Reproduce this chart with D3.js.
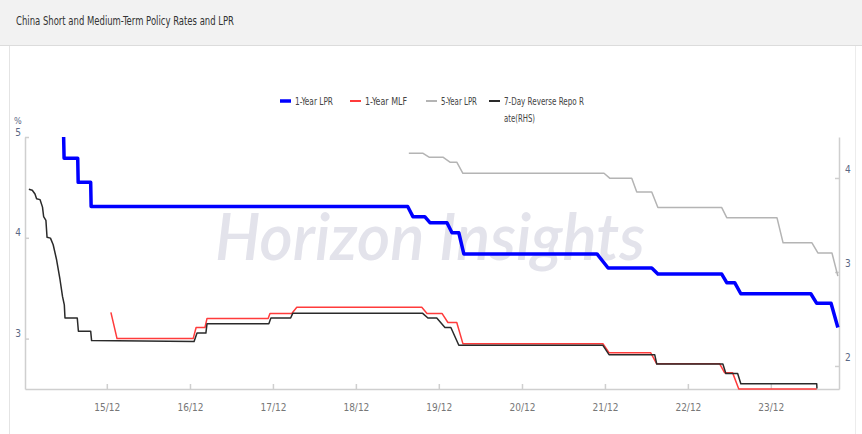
<!DOCTYPE html>
<html>
<head>
<meta charset="utf-8">
<script src="https://cdn.jsdelivr.net/npm/d3@7"></script>
<style>
	body { margin: 0; background: #fff; }
	svg text { font-family: "Liberation Sans Narrow", "DejaVu Sans Condensed", "DejaVu Sans", sans-serif; font-stretch: condensed; }
	.axis path, .axis line { stroke: #cfcfcf; stroke-width: 1.5px; }
	.axis text { fill: #5a6785; font-size: 10px; }
	.xaxis text { fill: #777; font-size: 10px; }
</style>
</head>
<body>
<div id="content"></div>
<script>

	// 1-Year LPR (left axis, %)
	var lpr1y = [
		["2015-06-24", 5.0], ["2015-06-26", 4.79], ["2015-08-25", 4.79], ["2015-08-27", 4.55],
		["2015-10-21", 4.55], ["2015-10-23", 4.31], ["2019-08-16", 4.31], ["2019-09-08", 4.21],
		["2019-10-30", 4.21], ["2019-11-22", 4.15], ["2020-02-05", 4.15], ["2020-02-27", 4.05],
		["2020-03-28", 4.05], ["2020-04-19", 3.84], ["2021-11-26", 3.84], ["2022-01-14", 3.70],
		["2022-07-25", 3.70], ["2022-08-21", 3.64], ["2023-05-29", 3.64], ["2023-06-20", 3.555],
		["2023-07-25", 3.555], ["2023-08-21", 3.445], ["2024-06-24", 3.445], ["2024-07-20", 3.35],
		["2024-09-21", 3.35], ["2024-10-21", 3.11]
	];

	// 1-Year MLF (left axis, %)
	var mlf1y = [
		["2016-01-18", 3.26], ["2016-02-14", 3.0], ["2017-01-14", 3.0], ["2017-01-27", 3.11],
		["2017-03-07", 3.11], ["2017-03-16", 3.20], ["2017-12-10", 3.20], ["2017-12-18", 3.25],
		["2018-03-24", 3.25], ["2018-04-15", 3.31], ["2019-10-17", 3.31], ["2019-11-09", 3.25],
		["2020-01-14", 3.25], ["2020-02-09", 3.16], ["2020-03-19", 3.16], ["2020-04-15", 2.95],
		["2021-12-22", 2.95], ["2022-01-18", 2.86], ["2022-07-20", 2.86], ["2022-08-16", 2.75],
		["2023-05-20", 2.75], ["2023-06-11", 2.66], ["2023-07-16", 2.66], ["2023-08-12", 2.50],
		["2024-07-20", 2.50]
	];

	// 5-Year LPR (left axis, %)
	var lpr5y = [
		["2019-08-21", 4.84], ["2019-10-21", 4.84], ["2019-11-18", 4.80], ["2020-01-18", 4.80],
		["2020-02-18", 4.75], ["2020-03-19", 4.75], ["2020-04-15", 4.64], ["2021-12-27", 4.64],
		["2022-01-22", 4.59], ["2022-04-28", 4.59], ["2022-05-20", 4.455], ["2022-07-25", 4.455],
		["2022-08-21", 4.30], ["2023-05-29", 4.30], ["2023-06-20", 4.20], ["2024-01-27", 4.20],
		["2024-02-23", 3.95], ["2024-06-29", 3.95], ["2024-07-25", 3.85], ["2024-09-25", 3.85],
		["2024-10-21", 3.62]
	];

	// 7-Day Reverse Repo Rate (right axis, %)
	var repo7d = [
		["2015-01-22", 3.88], ["2015-02-06", 3.87], ["2015-02-18", 3.83], ["2015-02-25", 3.78],
		["2015-03-12", 3.77], ["2015-03-23", 3.69], ["2015-03-28", 3.59], ["2015-04-07", 3.55],
		["2015-04-12", 3.37], ["2015-04-27", 3.36], ["2015-05-09", 3.29], ["2015-05-24", 3.13],
		["2015-06-08", 2.92], ["2015-06-19", 2.74], ["2015-06-27", 2.65], ["2015-06-30", 2.51],
		["2015-08-23", 2.51], ["2015-08-28", 2.37], ["2015-10-21", 2.37], ["2015-10-25", 2.27],
		["2017-01-18", 2.26], ["2017-01-31", 2.35], ["2017-03-11", 2.35], ["2017-03-16", 2.45],
		["2017-12-13", 2.45], ["2017-12-22", 2.51], ["2018-03-19", 2.51], ["2018-03-28", 2.56],
		["2019-10-21", 2.56], ["2019-11-13", 2.51], ["2019-12-22", 2.51], ["2020-01-27", 2.41],
		["2020-02-22", 2.41], ["2020-03-28", 2.22], ["2021-12-22", 2.22], ["2022-01-18", 2.12],
		["2022-08-07", 2.12], ["2022-08-16", 2.02], ["2023-06-03", 2.02], ["2023-06-16", 1.92],
		["2023-08-07", 1.92], ["2023-08-21", 1.81], ["2024-07-20", 1.81], ["2024-07-21", 1.76]
	];

	var xTicks = ["2015-12-31", "2016-12-31", "2017-12-31", "2018-12-31", "2019-12-31",
		"2020-12-31", "2021-12-31", "2022-12-31", "2023-12-31"];
	var leftTicks = [3, 4, 5];
	var rightTicks = [2, 3, 4];

	var series = [
		{ name: ["1-Year LPR"], data: lpr1y, axis: "left", color: "#0000ff", width: 3.5, tw: [38] },
		{ name: ["1-Year MLF"], data: mlf1y, axis: "left", color: "#ff3b3b", width: 1.5, tw: [42] },
		{ name: ["5-Year LPR"], data: lpr5y, axis: "left", color: "#b4b4b4", width: 1.5, tw: [36] },
		{ name: ["7-Day Reverse Repo R", "ate(RHS)"], data: repo7d, axis: "right", color: "#2a2a2a", width: 1.5, tw: [80, 31] }
	];

	var width = 862, height = 434;
	var parse = d3.timeParse("%Y-%m-%d");

	var svg = d3.select("#content").append("svg")
		.attr("width", width).attr("height", height);

	// header bar and panel frame
	svg.append("rect").attr("x", 0).attr("y", 0).attr("width", width).attr("height", 45).attr("fill", "#f2f2f2");
	svg.append("line").attr("x1", 0).attr("x2", width).attr("y1", 45.5).attr("y2", 45.5).attr("stroke", "#dcdcdc");
	svg.append("line").attr("x1", 9.5).attr("x2", 9.5).attr("y1", 46).attr("y2", height).attr("stroke", "#e4e4e4");
	svg.append("line").attr("x1", 855.5).attr("x2", 855.5).attr("y1", 46).attr("y2", height).attr("stroke", "#ececec");

	svg.append("text")
		.attr("x", 16).attr("y", 25)
		.attr("font-size", 13)
		.attr("fill", "#333")
		.attr("textLength", 218).attr("lengthAdjust", "spacingAndGlyphs")
		.text("China Short and Medium-Term Policy Rates and LPR");

	var plot = { left: 25, right: 839, top: 137, bottom: 389 };

	var x = d3.scaleTime()
		.domain([parse("2015-01-05"), parse("2024-10-26")])
		.range([plot.left, plot.right]);
	var yLeft = d3.scaleLinear().domain([2.5, 5]).range([plot.bottom, plot.top]);
	var yRight = d3.scaleLinear().domain([1.755, 4.436]).range([plot.bottom, plot.top]);

	// watermark
	svg.append("text")
		.attr("x", 215).attr("y", 260)
		.attr("font-size", 66).attr("font-style", "italic").attr("font-weight", 600)
		.style("font-family", "Lato, 'DejaVu Sans', sans-serif")
		.attr("fill", "#e3e3eb")
		.attr("textLength", 430).attr("lengthAdjust", "spacingAndGlyphs")
		.text("Horizon Insights");

	// axes
	svg.append("g")
		.attr("class", "axis xaxis")
		.attr("transform", "translate(0," + plot.bottom + ")")
		.call(d3.axisBottom(x)
			.tickValues(xTicks.map(parse))
			.tickFormat(d3.timeFormat("%y/%m"))
			.tickSize(-5).tickSizeOuter(0).tickPadding(15));

	var gl = svg.append("g")
		.attr("class", "axis")
		.attr("transform", "translate(" + plot.left + ",0)")
		.call(d3.axisLeft(yLeft).tickValues(leftTicks).tickFormat(d3.format("d"))
			.tickSize(-4).tickSizeOuter(0).tickPadding(4));
	gl.selectAll("text").attr("dy", "-0.2em");

	var gr = svg.append("g")
		.attr("class", "axis")
		.attr("transform", "translate(" + plot.right + ",0)")
		.call(d3.axisRight(yRight).tickValues(rightTicks).tickFormat(d3.format("d"))
			.tickSize(-4).tickSizeOuter(0).tickPadding(6));
	gr.selectAll("text").attr("dy", "-0.5em");

	svg.append("text")
		.attr("x", 14).attr("y", 124)
		.attr("font-size", 9).attr("fill", "#5a6785")
		.text("%");

	// lines
	series.forEach(function(s) {
		var y = s.axis == "left" ? yLeft : yRight;
		var line = d3.line()
			.x(function(d) { return x(parse(d[0])); })
			.y(function(d) { return y(d[1]); });
		svg.append("path")
			.datum(s.data)
			.attr("fill", "none")
			.attr("stroke", s.color)
			.attr("stroke-width", s.width)
			.attr("stroke-linejoin", "round")
			.attr("d", line);
	});

	// legend
	var legendX = [280, 350, 426, 489];
	var legend = svg.append("g").selectAll("g")
		.data(series)
		.enter().append("g")
		.attr("transform", function(d, i) { return "translate(" + legendX[i] + ",101)"; });

	legend.append("line")
		.attr("x1", 0).attr("x2", 11)
		.attr("stroke", function(d) { return d.color; })
		.attr("stroke-width", function(d) { return d.width > 2 ? 3.5 : 2; });

	legend.each(function(d) {
		var g = d3.select(this);
		d.name.forEach(function(part, i) {
			g.append("text")
				.attr("x", 15).attr("y", i * 17)
				.attr("dy", "0.35em")
				.attr("font-size", 10.5).attr("fill", "#444")
				.attr("textLength", d.tw[i]).attr("lengthAdjust", "spacingAndGlyphs")
				.text(part);
		});
	});

</script>
</body>
</html>
